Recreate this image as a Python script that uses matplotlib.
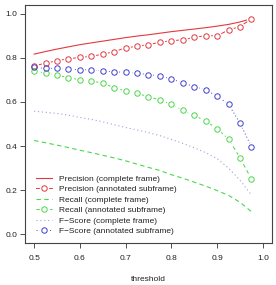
import matplotlib
matplotlib.use("Agg")
import matplotlib.pyplot as plt

plt.rcParams['font.family'] = ['Liberation Sans', 'DejaVu Sans']

# Data
threshold = [0.5, 0.525, 0.55, 0.575, 0.6, 0.625, 0.65, 0.675, 0.7, 0.725,
             0.75, 0.775, 0.8, 0.825, 0.85, 0.875, 0.9, 0.925, 0.95, 0.975]

precision_complete = [0.817, 0.829, 0.840, 0.850, 0.860, 0.868, 0.876, 0.884, 0.892, 0.899,
                      0.905, 0.912, 0.919, 0.925, 0.931, 0.937, 0.944, 0.952, 0.963, 0.978]
precision_annot = [0.764, 0.776, 0.787, 0.796, 0.802, 0.807, 0.817, 0.828, 0.846, 0.852,
                   0.860, 0.871, 0.878, 0.882, 0.893, 0.901, 0.900, 0.927, 0.942, 0.977]
recall_complete = [0.425, 0.415, 0.404, 0.393, 0.381, 0.370, 0.358, 0.346, 0.333, 0.318,
                   0.303, 0.289, 0.270, 0.254, 0.236, 0.218, 0.198, 0.176, 0.145, 0.102]
recall_annot = [0.741, 0.731, 0.721, 0.711, 0.700, 0.696, 0.685, 0.665, 0.650, 0.639,
                0.624, 0.609, 0.589, 0.562, 0.539, 0.513, 0.479, 0.432, 0.347, 0.250]
fscore_complete = [0.558, 0.553, 0.548, 0.540, 0.530, 0.521, 0.510, 0.497, 0.484, 0.473,
                   0.461, 0.447, 0.430, 0.412, 0.392, 0.370, 0.343, 0.300, 0.245, 0.178]
fscore_annot = [0.757, 0.752, 0.752, 0.749, 0.746, 0.746, 0.741, 0.737, 0.734, 0.731,
                0.724, 0.718, 0.705, 0.686, 0.670, 0.654, 0.627, 0.589, 0.505, 0.396]

labels = ['Precision (complete frame)', 'Precision (annotated subframe)',
          'Recall (complete frame)', 'Recall (annotated subframe)',
          'F\u2212Score (complete frame)', 'F\u2212Score (annotated subframe)']

red = '#E3383E'
green = '#4CD64C'
blue = '#3F3FCC'
lav = '#A0A0DD'

fig = plt.figure(figsize=(2.76, 2.85), dpi=100)
ax = fig.add_axes([25 / 276, 1 - 243 / 285, 247 / 276, 238 / 285])


def with_points(y, color, ls):
    ln, = ax.plot(threshold, y, color=color, ls=ls, lw=0.7, zorder=2)
    halo, = ax.plot(threshold, y, ls='none', marker='o', ms=6.8, mfc='white',
                    mec='none', zorder=3)
    mk, = ax.plot(threshold, y, ls='none', marker='o', ms=3.9, mfc='none',
                  mec=color, mew=0.7, zorder=4)
    return (ln, halo, mk)


h1, = ax.plot(threshold, precision_complete, color=red, lw=0.8, zorder=2)
h2 = with_points(precision_annot, red, '-')
h3, = ax.plot(threshold, recall_complete, color=green, lw=0.8, ls=(0, (4, 3)), zorder=2)
h4 = with_points(recall_annot, green, (0, (4, 3)))
h5, = ax.plot(threshold, fscore_complete, color=lav, lw=0.8, ls=(0, (1, 2.5)), zorder=2)
h6 = with_points(fscore_annot, blue, (0, (1, 2.5)))

ax.set_xlim(0.48, 1.02)
ax.set_ylim(-0.04, 1.04)
ax.set_xticks([0.5, 0.6, 0.7, 0.8, 0.9, 1.0])
ax.set_yticks([0.0, 0.2, 0.4, 0.6, 0.8, 1.0])
ax.set_xticklabels(['0.5', '0.6', '0.7', '0.8', '0.9', '1.0'])
ax.set_yticklabels(['0.0', '0.2', '0.4', '0.6', '0.8', '1.0'])
ax.tick_params(direction='out', length=3.5, width=0.6, colors='#333333',
               labelsize=6, labelcolor='#222222', pad=2)
ax.tick_params(axis='x', pad=5)
for s in ax.spines.values():
    s.set_color('#444444')
    s.set_linewidth(0.8)
ax.set_xlabel('threshold', fontsize=6, color='#222222', labelpad=10)

leg = fig.legend([h1, h2, h3, h4, h5, h6], labels, loc='upper left',
                 bbox_to_anchor=(36 / 276, 1 - 175 / 285), frameon=False,
                 fontsize=6, borderpad=0, borderaxespad=0, handlelength=1.9,
                 handletextpad=0.9, labelspacing=0.32, numpoints=1)
for t in leg.get_texts():
    t.set_color('#222222')

fig.savefig('out.png', dpi=100)
